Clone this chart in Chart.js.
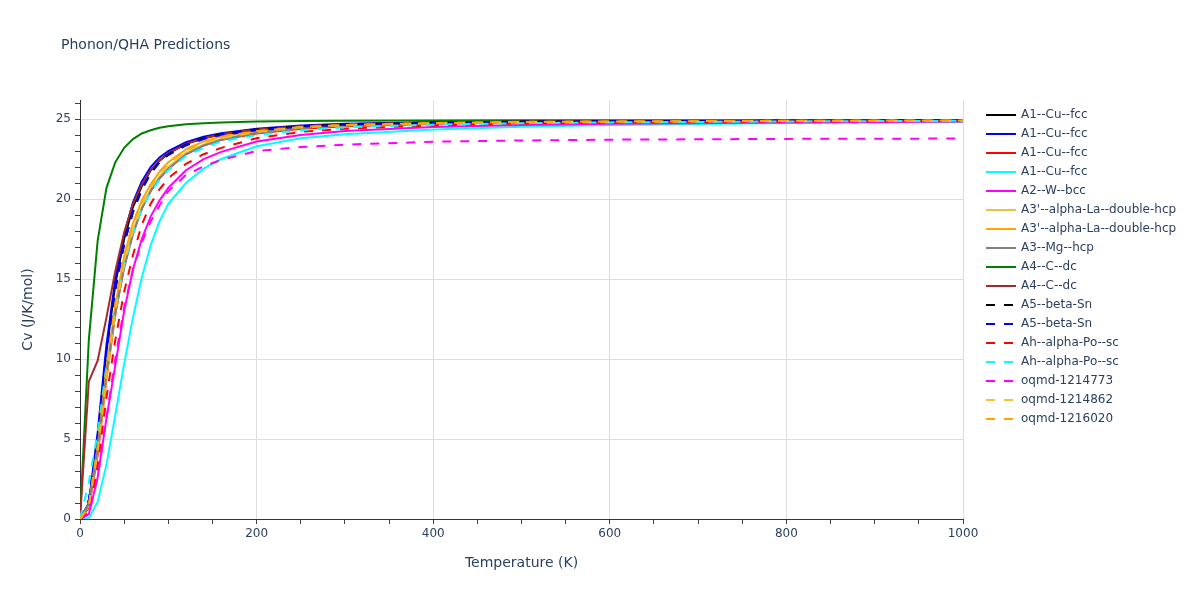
<!DOCTYPE html>
<html>
<head>
<meta charset="utf-8">
<title>Phonon/QHA Predictions</title>
<script src="https://cdn.jsdelivr.net/npm/chart.js@4.4.1/dist/chart.umd.min.js"></script>
<style>
  html, body { margin: 0; padding: 0; background: #fff; }
  #wrap { width: 1200px; height: 600px; }
</style>
</head>
<body>
<div id="wrap"><canvas id="chart" width="1200" height="600"></canvas></div>
<script>
// ══════════════════════════════════════════
// DATA (temperature in K, Cv in J/K/mol)
// ══════════════════════════════════════════
const temps = [0, 10, 20, 30, 40, 50, 60, 70, 80, 90, 100, 120, 140, 160, 200, 250, 300, 400, 500, 600, 800, 1000];

const names = [
  "A1--Cu--fcc", "A1--Cu--fcc", "A1--Cu--fcc", "A1--Cu--fcc",
  "A2--W--bcc",
  "A3'--alpha-La--double-hcp", "A3'--alpha-La--double-hcp",
  "A3--Mg--hcp",
  "A4--C--dc", "A4--C--dc",
  "A5--beta-Sn", "A5--beta-Sn",
  "Ah--alpha-Po--sc", "Ah--alpha-Po--sc",
  "oqmd-1214773", "oqmd-1214862", "oqmd-1216020",
];
const colors = [
  "#000000", "#0000ff", "#ff0000", "#00ffff", "#ff00ff",
  "#f0c040", "#ffa500", "#808080", "#008000", "#a52a2a",
  "#000000", "#0000ff", "#ff0000", "#00ffff", "#ff00ff", "#f0c040", "#ffa500",
];
const dashed = [false, false, false, false, false, false, false, false, false, false,
  true, true, true, true, true, true, true];

const cuBlack  = [0, 0.9, 5.1, 10.5, 14.7, 17.5, 19.5, 20.8, 21.8, 22.4, 22.85, 23.45, 23.8, 24.05, 24.35, 24.55, 24.67, 24.78, 24.84, 24.86, 24.89, 24.91];
const cuBlue   = [0, 1.0, 5.4, 10.9, 15.0, 17.8, 19.8, 21.1, 22.0, 22.6, 23.0, 23.55, 23.9, 24.12, 24.4, 24.6, 24.7, 24.8, 24.85, 24.87, 24.9, 24.92];
const cuRed    = [0, 0.7, 4.0, 8.8, 12.8, 15.8, 17.9, 19.4, 20.5, 21.3, 21.9, 22.8, 23.35, 23.7, 24.1, 24.4, 24.55, 24.7, 24.78, 24.82, 24.87, 24.9];
const cuCyan   = [0, 0.05, 1.08, 3.4, 6.5, 9.7, 12.6, 15.1, 17.1, 18.6, 19.7, 21.0, 21.9, 22.5, 23.3, 23.8, 24.05, 24.35, 24.52, 24.62, 24.75, 24.82];
const wBcc     = [0, 0.3, 2.6, 6.3, 9.6, 13.0, 15.6, 17.5, 18.9, 19.9, 20.7, 21.8, 22.5, 22.95, 23.6, 24.0, 24.25, 24.5, 24.63, 24.7, 24.78, 24.84];
const laGold   = [0, 0.8, 4.2, 8.9, 12.9, 15.9, 18.0, 19.5, 20.6, 21.4, 22.0, 22.9, 23.4, 23.75, 24.15, 24.45, 24.6, 24.73, 24.8, 24.84, 24.88, 24.9];
const laOrange = [0, 0.9, 4.5, 9.4, 13.4, 16.4, 18.5, 19.9, 20.9, 21.7, 22.3, 23.1, 23.6, 23.9, 24.25, 24.5, 24.63, 24.75, 24.82, 24.85, 24.89, 24.91];
const mgHcp    = [0, 0.9, 4.4, 9.1, 12.9, 15.7, 17.8, 19.4, 20.5, 21.3, 21.9, 22.8, 23.35, 23.7, 24.15, 24.45, 24.6, 24.73, 24.8, 24.84, 24.88, 24.9];
const cGreen   = [0, 11.2, 17.4, 20.7, 22.3, 23.2, 23.75, 24.1, 24.3, 24.45, 24.55, 24.67, 24.74, 24.78, 24.84, 24.87, 24.89, 24.91, 24.92, 24.92, 24.93, 24.93];
const cBrown   = [0, 8.6, 9.9, 12.6, 15.5, 17.9, 19.7, 20.9, 21.8, 22.4, 22.85, 23.45, 23.8, 24.05, 24.35, 24.55, 24.67, 24.78, 24.84, 24.86, 24.89, 24.91];
const snBlack  = [0, 0.9, 4.8, 10.0, 14.3, 17.2, 19.2, 20.6, 21.6, 22.3, 22.8, 23.4, 23.8, 24.05, 24.35, 24.55, 24.67, 24.78, 24.84, 24.86, 24.89, 24.91];
const snBlue   = [0, 1.2, 5.3, 10.3, 14.4, 17.2, 19.2, 20.6, 21.6, 22.3, 22.75, 23.35, 23.75, 24.0, 24.3, 24.52, 24.65, 24.77, 24.83, 24.86, 24.89, 24.91];
const poRed    = [0, 0.4, 3.3, 7.6, 11.2, 14.2, 16.5, 18.4, 19.7, 20.6, 21.3, 22.2, 22.8, 23.2, 23.8, 24.2, 24.4, 24.6, 24.72, 24.78, 24.85, 24.88];
const poCyan   = [0, 2.3, 5.4, 9.6, 13.2, 15.9, 17.9, 19.4, 20.4, 21.2, 21.8, 22.7, 23.2, 23.6, 24.0, 24.3, 24.48, 24.65, 24.74, 24.79, 24.85, 24.89];
const oq773    = [0, 0.3, 2.6, 6.3, 10.0, 13.2, 15.6, 17.3, 18.6, 19.6, 20.5, 21.5, 22.05, 22.45, 23.0, 23.25, 23.4, 23.58, 23.66, 23.71, 23.76, 23.78];
const oq862    = [0, 0.8, 4.3, 9.0, 13.0, 16.0, 18.1, 19.6, 20.7, 21.5, 22.1, 23.0, 23.5, 23.8, 24.2, 24.48, 24.62, 24.74, 24.81, 24.84, 24.88, 24.9];
const oq020    = [0, 0.9, 4.6, 9.5, 13.5, 16.5, 18.5, 19.9, 20.9, 21.7, 22.3, 23.1, 23.6, 23.9, 24.25, 24.5, 24.63, 24.75, 24.82, 24.85, 24.89, 24.91];

const series = [cuBlack, cuBlue, cuRed, cuCyan, wBcc, laGold, laOrange, mgHcp, cGreen, cBrown,
  snBlack, snBlue, poRed, poCyan, oq773, oq862, oq020];

// ══════════════════════════════════════════
// STYLE
// ══════════════════════════════════════════
const TEXT = "#2a3f5f";
const FONT = "'DejaVu Sans', Verdana, sans-serif";
const DASH = [9, 9];

// title, axis titles and legend drawn on the canvas
const decor = {
  id: "decor",
  afterDraw(chart) {
    const c = chart.ctx;
    const area = chart.chartArea;
    c.save();
    c.fillStyle = TEXT;
    c.textBaseline = "middle";

    c.font = "14px " + FONT;
    c.textAlign = "left";
    c.fillText("Phonon/QHA Predictions", 61, 45);

    c.textAlign = "center";
    c.fillText("Temperature (K)", (area.left + area.right) / 2, 563);
    c.save();
    c.translate(28, (area.top + area.bottom) / 2);
    c.rotate(-Math.PI / 2);
    c.fillText("Cv (J/K/mol)", 0, 0);
    c.restore();

    // legend
    c.font = "12px " + FONT;
    c.textAlign = "left";
    names.forEach((name, i) => {
      const y = 115 + i * 19;
      c.beginPath();
      c.strokeStyle = colors[i];
      c.lineWidth = 2;
      c.setLineDash(dashed[i] ? DASH : []);
      c.moveTo(986, y);
      c.lineTo(1016, y);
      c.stroke();
      c.setLineDash([]);
      c.fillText(name, 1021, y);
    });
    c.restore();
  },
};

const datasets = series.map((vals, i) => ({
  label: names[i],
  data: temps.map((t, k) => ({ x: t, y: vals[k] })),
  borderColor: colors[i],
  backgroundColor: colors[i],
  borderWidth: 2,
  borderDash: dashed[i] ? DASH : [],
  pointRadius: 0,
  tension: 0,
  fill: false,
  order: series.length - i,
}));

const gridColor = (ctx, step) =>
  ctx.tick && Math.abs(ctx.tick.value % step) < 1e-6 && ctx.tick.value !== 0 ? "#dedede" : "rgba(0,0,0,0)";

new Chart(document.getElementById("chart"), {
  type: "line",
  data: { datasets },
  options: {
    responsive: false,
    animation: false,
    devicePixelRatio: 1,
    layout: { padding: { left: 0, right: 237, top: 100, bottom: 0 } },
    plugins: { legend: { display: false }, tooltip: { enabled: false }, title: { display: false } },
    scales: {
      x: {
        type: "linear",
        min: 0,
        max: 1000,
        afterFit: (s) => { s.height = 81; },
        border: { display: true, color: "#333", width: 1 },
        grid: { color: (ctx) => gridColor(ctx, 200), drawTicks: true, tickLength: 5, tickColor: "#444" },
        ticks: {
          stepSize: 50,
          autoSkip: false,
          maxRotation: 0,
          includeBounds: false,
          padding: 3,
          color: TEXT,
          font: { family: FONT, size: 12 },
          callback: (v) => (v % 200 === 0 ? v : ""),
        },
      },
      y: {
        type: "linear",
        min: 0,
        max: 26.19,
        afterFit: (s) => { s.width = 80; },
        border: { display: true, color: "#333", width: 1 },
        grid: { color: (ctx) => gridColor(ctx, 5), drawTicks: true, tickLength: 5, tickColor: "#444" },
        ticks: {
          stepSize: 1,
          autoSkip: false,
          includeBounds: false,
          padding: 4,
          color: TEXT,
          font: { family: FONT, size: 12 },
          callback: (v) => (v % 5 === 0 ? v : ""),
        },
      },
    },
  },
  plugins: [decor],
});
</script>
</body>
</html>
